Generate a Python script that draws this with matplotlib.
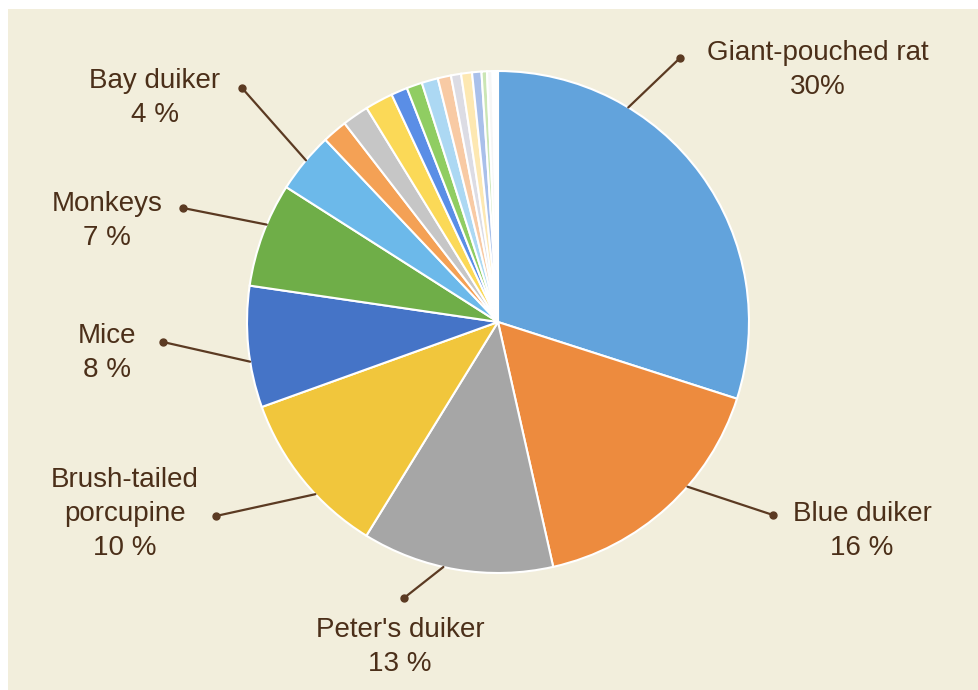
import numpy as np
import matplotlib
matplotlib.use("Agg")
import matplotlib.pyplot as plt
from matplotlib.patches import Rectangle

# Slice shares (%), clockwise from 12 o'clock
species = ["Giant-pouched rat", "Blue duiker", "Peter's duiker",
           "Brush-tailed\nporcupine", "Mice", "Monkeys", "Bay duiker"]
shares = [29.9, 16.5, 12.3, 10.7, 7.8, 6.7, 3.9]
pct_text = ["30%", "16 %", "13 %", "10 %", "8 %", "7 %", "4 %"]

# the unlabelled small slices at the top
minor_shares = [1.6, 1.7, 1.8, 1.05, 1.0, 1.05, 0.85, 0.65, 0.7, 0.6, 0.35, 0.35, 0.35]

main_colors = ["#62a3dc", "#ed8b3e", "#a6a6a6", "#f1c63c", "#4574c7", "#6fae48", "#6cb9ea"]
minor_colors = ["#f4a155", "#c6c6c6", "#fbd957", "#5a8ee6", "#90cd62", "#acd8f3",
                "#f8caa4", "#dcdce4", "#fde8b2", "#a9c0ea", "#cbe6b5", "#f6f6f6", "#ffffff"]

# label placement (pixel coords, y from top) and where the leader meets the rim
label_xy = [(818, 70), (862, 531), (400, 647), (125, 514), (107, 353), (107, 221), (155, 98)]
dot_xy = [(680, 58), (773, 515), (404, 598), (216, 516), (163, 342), (183, 208), (242, 88)]
attach_frac = [0.29, 0.39, 0.57, 0.39, 0.38, 0.6, 0.54]

W, H = 979, 690
cx, cy, R = 498, H - 322, 251
text_color = "#4b2f19"
line_color = "#5b3a22"

plt.rcParams['font.family'] = ['Liberation Sans', 'DejaVu Sans']

fig = plt.figure(figsize=(W / 100, H / 100), dpi=100, facecolor="white")
ax = fig.add_axes([0, 0, 1, 1])
ax.add_patch(Rectangle((8, 0), W - 8, H - 9, facecolor="#f2eedc", edgecolor="none", zorder=0))

wedges, _ = ax.pie(shares + minor_shares, colors=main_colors + minor_colors,
                   startangle=90, counterclock=False, center=(cx, cy), radius=R,
                   wedgeprops=dict(edgecolor="white", linewidth=1.5))
for w in wedges:
    w.set_zorder(2)

for i, name in enumerate(species):
    w = wedges[i]
    # clockwise wedge: go from theta2 down towards theta1
    ang = np.deg2rad(w.theta2 - attach_frac[i] * (w.theta2 - w.theta1))
    rx, ry = cx + R * np.cos(ang), cy + R * np.sin(ang)
    dx, dy = dot_xy[i][0], H - dot_xy[i][1]
    ax.plot([rx, dx], [ry, dy], color=line_color, lw=1.6, zorder=3, solid_capstyle="round")
    ax.plot(dx, dy, "o", color=line_color, ms=5, zorder=4)
    ax.text(label_xy[i][0], H - label_xy[i][1], name + "\n" + pct_text[i],
            ha="center", va="center", fontsize=20, color=text_color,
            linespacing=1.42, zorder=5)

ax.set_xlim(0, W)
ax.set_ylim(0, H)
ax.set_aspect("auto")
ax.axis("off")

fig.savefig("out.png", dpi=100, facecolor="white")
